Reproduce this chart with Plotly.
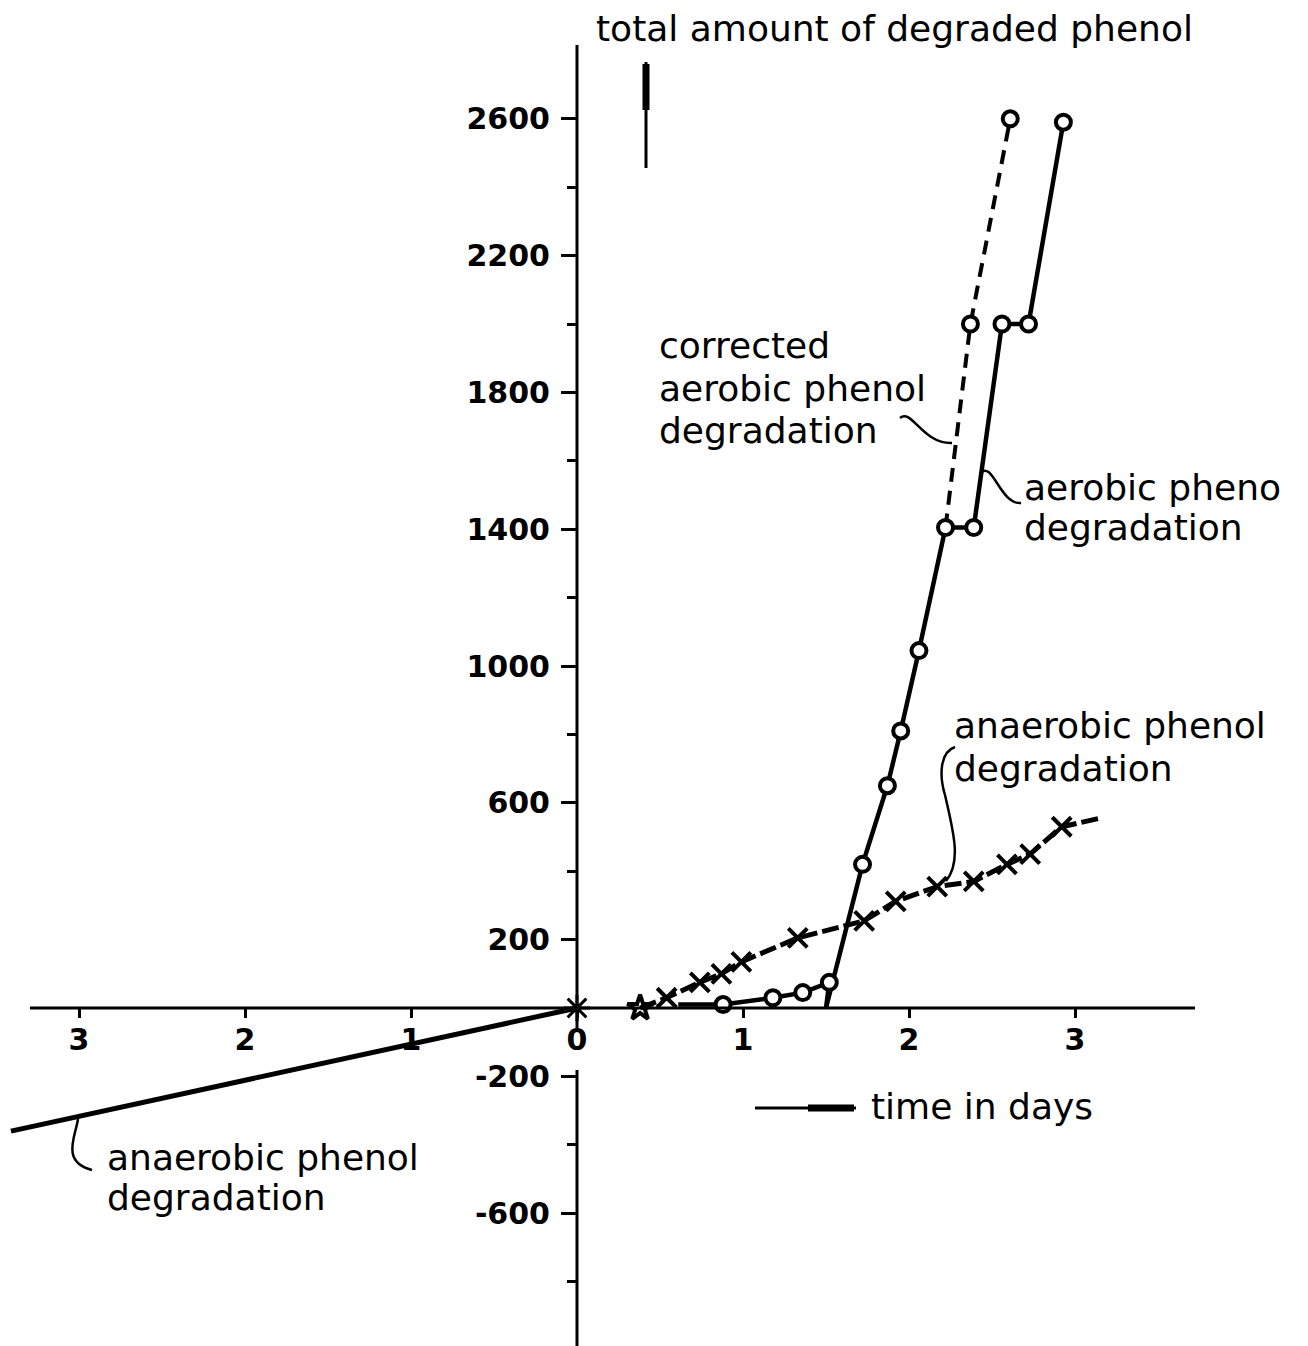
import plotly.graph_objects as go

# ---------------- data ----------------
# aerobic phenol degradation (solid line, open circles); flag 0 = vertex without symbol
aer_x = [0.61, 0.88, 1.18, 1.36, 1.52, 1.50, 1.72, 1.87, 1.95, 2.06, 2.22, 2.39, 2.56, 2.72, 2.93]
aer_y = [10, 10, 30, 45, 75, 0, 420, 650, 810, 1045, 1405, 1405, 2000, 2000, 2590]
aer_marker = [0, 1, 1, 1, 1, 0, 1, 1, 1, 1, 1, 1, 1, 1, 1]

# corrected aerobic phenol degradation (dashed)
cor_x = [2.22, 2.37, 2.61]
cor_y = [1405, 2000, 2600]
cor_marker = [0, 1, 1]

# anaerobic phenol degradation (positive time, dashed with crosses)
ana_x = [0.38, 0.54, 0.74, 0.87, 0.99, 1.33, 1.73, 1.92, 2.17, 2.39, 2.59, 2.73, 2.92, 3.15]
ana_y = [0, 30, 75, 100, 135, 205, 255, 312, 355, 370, 420, 450, 530, 555]
ana_marker = [1, 1, 1, 1, 1, 1, 1, 1, 1, 1, 1, 1, 1, 0]

# anaerobic phenol degradation (negative time side)
neg_x = [0, -3.41]
neg_y = [0, -360]

x_tickvals = [-3, -2, -1, 0, 1, 2, 3]
x_ticktext = ["3", "2", "1", "0", "1", "2", "3"]
y_tickvals = [-600, -200, 200, 600, 1000, 1400, 1800, 2200, 2600]
y_ticktext = ["-600", "-200", "200", "600", "1000", "1400", "1800", "2200", "2600"]
y_minorvals = [-800, -400, 400, 800, 1200, 1600, 2000, 2400]

# ---------------- geometry (pixel mapping of the page) ----------------
W, H = 1308, 1346
X0PIX, XSC = 577, 166.0      # pixel of x=0, pixels per day
Y0PIX, YSC = 1008, 0.342     # pixel of y=0, pixels per unit
X_RANGE = [-X0PIX / XSC, (W - X0PIX) / XSC]
Y_RANGE = [-(H - Y0PIX) / YSC, Y0PIX / YSC]


def px(p):
    return (p - X0PIX) / XSC


def py(p):
    return (Y0PIX - p) / YSC


FONT = "DejaVu Sans"
BLACK = "black"

fig = go.Figure()

fig.add_trace(go.Scatter(
    x=neg_x, y=neg_y, mode="lines+markers",
    line=dict(color=BLACK, width=5),
    marker=dict(symbol="asterisk-open", size=[22, 0], color=BLACK, opacity=1,
                line=dict(color=BLACK, width=3)),
    hoverinfo="skip"))

fig.add_trace(go.Scatter(
    x=ana_x, y=ana_y, mode="lines+markers",
    line=dict(color=BLACK, width=5, dash="17px,5px"),
    marker=dict(symbol=["star-open"] + ["x-thin-open"] * (len(ana_x) - 1),
                size=[19 * m for m in ana_marker], color=BLACK, opacity=1,
                line=dict(color=BLACK, width=4)),
    hoverinfo="skip"))

fig.add_trace(go.Scatter(
    x=cor_x, y=cor_y, mode="lines+markers",
    line=dict(color=BLACK, width=4, dash="14px,9px"),
    marker=dict(symbol="circle", size=[15 * m for m in cor_marker], color="white", opacity=1,
                line=dict(color=BLACK, width=4)),
    hoverinfo="skip"))

fig.add_trace(go.Scatter(
    x=aer_x, y=aer_y, mode="lines+markers",
    line=dict(color=BLACK, width=4.5),
    marker=dict(symbol="circle", size=[15 * m for m in aer_marker], color="white", opacity=1,
                line=dict(color=BLACK, width=4)),
    hoverinfo="skip"))

# ---------------- axis lines (drawn as shapes, ticks come from the axes) ----------------
shapes = [
    dict(type="line", xref="x", yref="y", x0=px(30), x1=px(1195), y0=0, y1=0,
         line=dict(color=BLACK, width=3)),
    dict(type="line", xref="x", yref="y", x0=0, x1=0, y0=py(45), y1=py(1030),
         line=dict(color=BLACK, width=3)),
    dict(type="line", xref="x", yref="y", x0=0, x1=0, y0=py(1070), y1=py(1346),
         line=dict(color=BLACK, width=3)),
    # vertical arrow under the y title
    dict(type="line", xref="x", yref="y", x0=px(646), x1=px(646), y0=py(168), y1=py(62),
         line=dict(color=BLACK, width=3)),
    dict(type="line", xref="x", yref="y", x0=px(646), x1=px(646), y0=py(110), y1=py(64),
         line=dict(color=BLACK, width=7)),
    # horizontal arrow before "time in days"
    dict(type="line", xref="x", yref="y", x0=px(755), x1=px(856), y0=py(1108), y1=py(1108),
         line=dict(color=BLACK, width=3)),
    dict(type="line", xref="x", yref="y", x0=px(808), x1=px(854), y0=py(1108), y1=py(1108),
         line=dict(color=BLACK, width=7)),
]


def path(points):
    # points: list of pixel tuples; first is M, then groups of 3 for cubic C
    s = "M {},{}".format(px(points[0][0]), py(points[0][1]))
    rest = points[1:]
    for i in range(0, len(rest), 3):
        (a, b), (c, d), (e, f) = rest[i:i + 3]
        s += " C {},{} {},{} {},{}".format(px(a), py(b), px(c), py(d), px(e), py(f))
    return s


leaders = [
    [(900, 418), (912, 408), (922, 444), (952, 443)],
    [(980, 474), (992, 458), (1000, 505), (1021, 503)],
    [(955, 747), (940, 752), (939, 775), (945, 795), (953, 830), (962, 862), (946, 881)],
    [(78, 1119), (76, 1135), (60, 1162), (92, 1170)],
]
for pts in leaders:
    shapes.append(dict(type="path", xref="x", yref="y", path=path(pts),
                       line=dict(color=BLACK, width=2.5)))

# ---------------- text ----------------
annotations = []


def label(text, xp, yp, size=36):
    annotations.append(dict(text=text, x=px(xp), y=py(yp), xref="x", yref="y",
                            xanchor="left", yanchor="middle", align="left",
                            showarrow=False, font=dict(family=FONT, size=size, color=BLACK)))


label("total amount of degraded phenol", 594, 28, 36)
label("corrected", 657, 345)
label("aerobic phenol", 657, 388)
label("degradation", 657, 430)
label("aerobic pheno", 1022, 487)
label("degradation", 1022, 527)
label("anaerobic phenol", 952, 725)
label("degradation", 952, 768)
label("anaerobic phenol", 105, 1157)
label("degradation", 105, 1197)
label("time in days", 869, 1106)

TICKFONT = dict(family=FONT, size=30, color=BLACK, weight="bold")

fig.update_layout(
    width=W, height=H, template="none",
    margin=dict(l=0, r=0, t=0, b=0),
    paper_bgcolor="white", plot_bgcolor="white",
    showlegend=False,
    shapes=shapes, annotations=annotations,
    xaxis=dict(range=X_RANGE, showgrid=False, zeroline=False, showline=False,
               tickmode="array", tickvals=x_tickvals, ticktext=x_ticktext,
               ticks="outside", ticklen=9, tickwidth=3, tickcolor=BLACK,
               tickfont=TICKFONT, ticklabelstandoff=-4,
               anchor="free", position=(H - Y0PIX) / H, automargin=False,
               fixedrange=True),
    yaxis=dict(range=Y_RANGE, showgrid=False, zeroline=False, showline=False,
               tickmode="array", tickvals=y_tickvals, ticktext=y_ticktext,
               ticks="outside", ticklen=16, tickwidth=3, tickcolor=BLACK,
               tickfont=TICKFONT, ticklabelstandoff=5,
               minor=dict(tickmode="array", tickvals=y_minorvals, ticks="outside",
                          ticklen=10, tickwidth=3, tickcolor=BLACK, showgrid=False),
               anchor="free", position=X0PIX / W, automargin=False,
               fixedrange=True),
)

fig.write_html("out.html")
